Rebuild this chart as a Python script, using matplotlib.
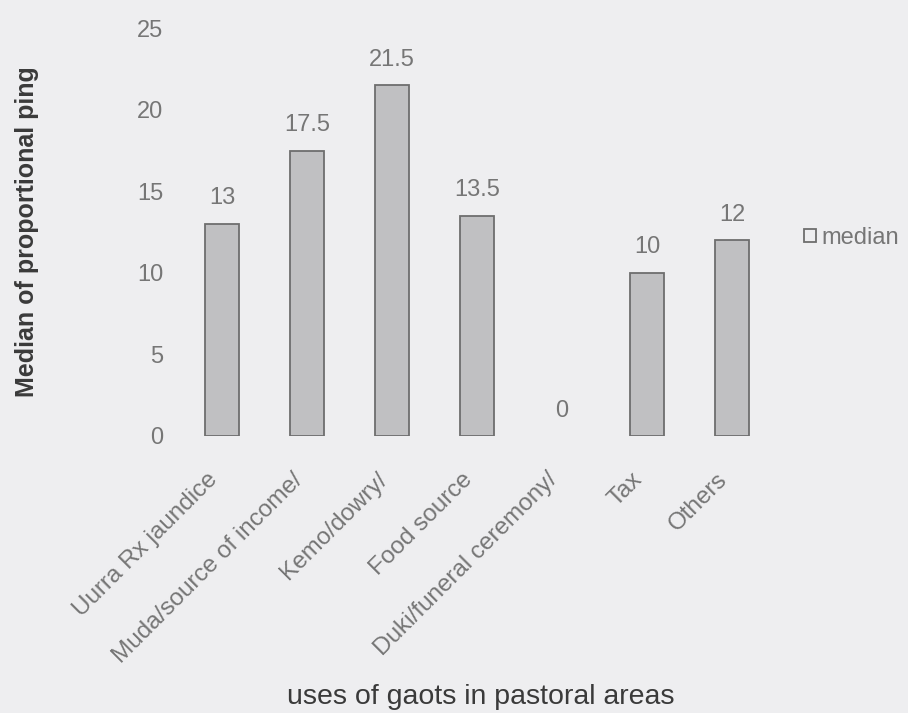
import matplotlib
matplotlib.use("Agg")
import matplotlib.pyplot as plt
from matplotlib.patches import Patch
from matplotlib.transforms import ScaledTranslation

categories = ["Uurra Rx jaundice", "Muda/source of income/", "Kemo/dowry/",
              "Food source", "Duki/funeral ceremony/", "Tax", "Others"]
median_values = [13, 17.5, 21.5, 13.5, 0, 10, 12]
value_labels = ["13", "17.5", "21.5", "13.5", "0", "10", "12"]
y_ticks = [0, 5, 10, 15, 20, 25]

plt.rcParams['font.family'] = ['Liberation Sans', 'DejaVu Sans']

bg = "#eeeef0"
text_col = "#767676"
edge_col = "#6e6e6e"

fig = plt.figure(figsize=(9.08, 7.13), dpi=100, facecolor=bg)
ax = fig.add_axes([0.198, 0.3885, 0.655, 0.572], facecolor=bg)

x = list(range(len(categories)))
bars = ax.bar(x, median_values, width=0.40, color="#c0c0c2",
              edgecolor=edge_col, linewidth=1.3, label="median")
# empty categories get no outline at the baseline
for b, v in zip(bars, median_values):
    if v == 0:
        b.set_linewidth(0)

for xi, v, lab in zip(x, median_values, value_labels):
    ax.annotate(lab, (xi, v), xytext=(0, 14), textcoords="offset points",
                ha="center", va="baseline", fontsize=17, color=text_col)

ax.set_xlim(-0.5, len(categories) - 0.5)
ax.set_ylim(0, 25)
ax.set_yticks(y_ticks)
ax.set_yticklabels([str(t) for t in y_ticks], fontsize=17, color=text_col)
ax.set_xticks(x)
ax.set_xticklabels(categories, rotation=45, ha="right", va="center",
                   rotation_mode="anchor", fontsize=17.5, color=text_col)
ax.tick_params(axis="both", length=0)
ax.tick_params(axis="y", pad=12)
ax.tick_params(axis="x", pad=24)
shift = ScaledTranslation(-0.08, -0.07, fig.dpi_scale_trans)
for lab in ax.get_xticklabels():
    lab.set_transform(lab.get_transform() + shift)
for s in ax.spines.values():
    s.set_visible(False)

ax.set_ylabel("Median of proportional ping", fontsize=18, fontweight="bold",
              color="#3a3a3a")
ax.yaxis.set_label_coords(-0.236, 0.5)
fig.text(0.530, 0.022, "uses of gaots in pastoral areas", ha="center", va="center",
         fontsize=20.5, color="#3a3a3a")

handle = Patch(facecolor=bg, edgecolor=edge_col, linewidth=1.3)
fig.legend([handle], ["median"], loc="center left", bbox_to_anchor=(0.886, 0.666),
           frameon=False, fontsize=17, labelcolor=text_col, handlelength=0.5,
           handleheight=0.5, handletextpad=0.2, borderpad=0, borderaxespad=0)

fig.savefig("out.png", dpi=100, facecolor=bg)
